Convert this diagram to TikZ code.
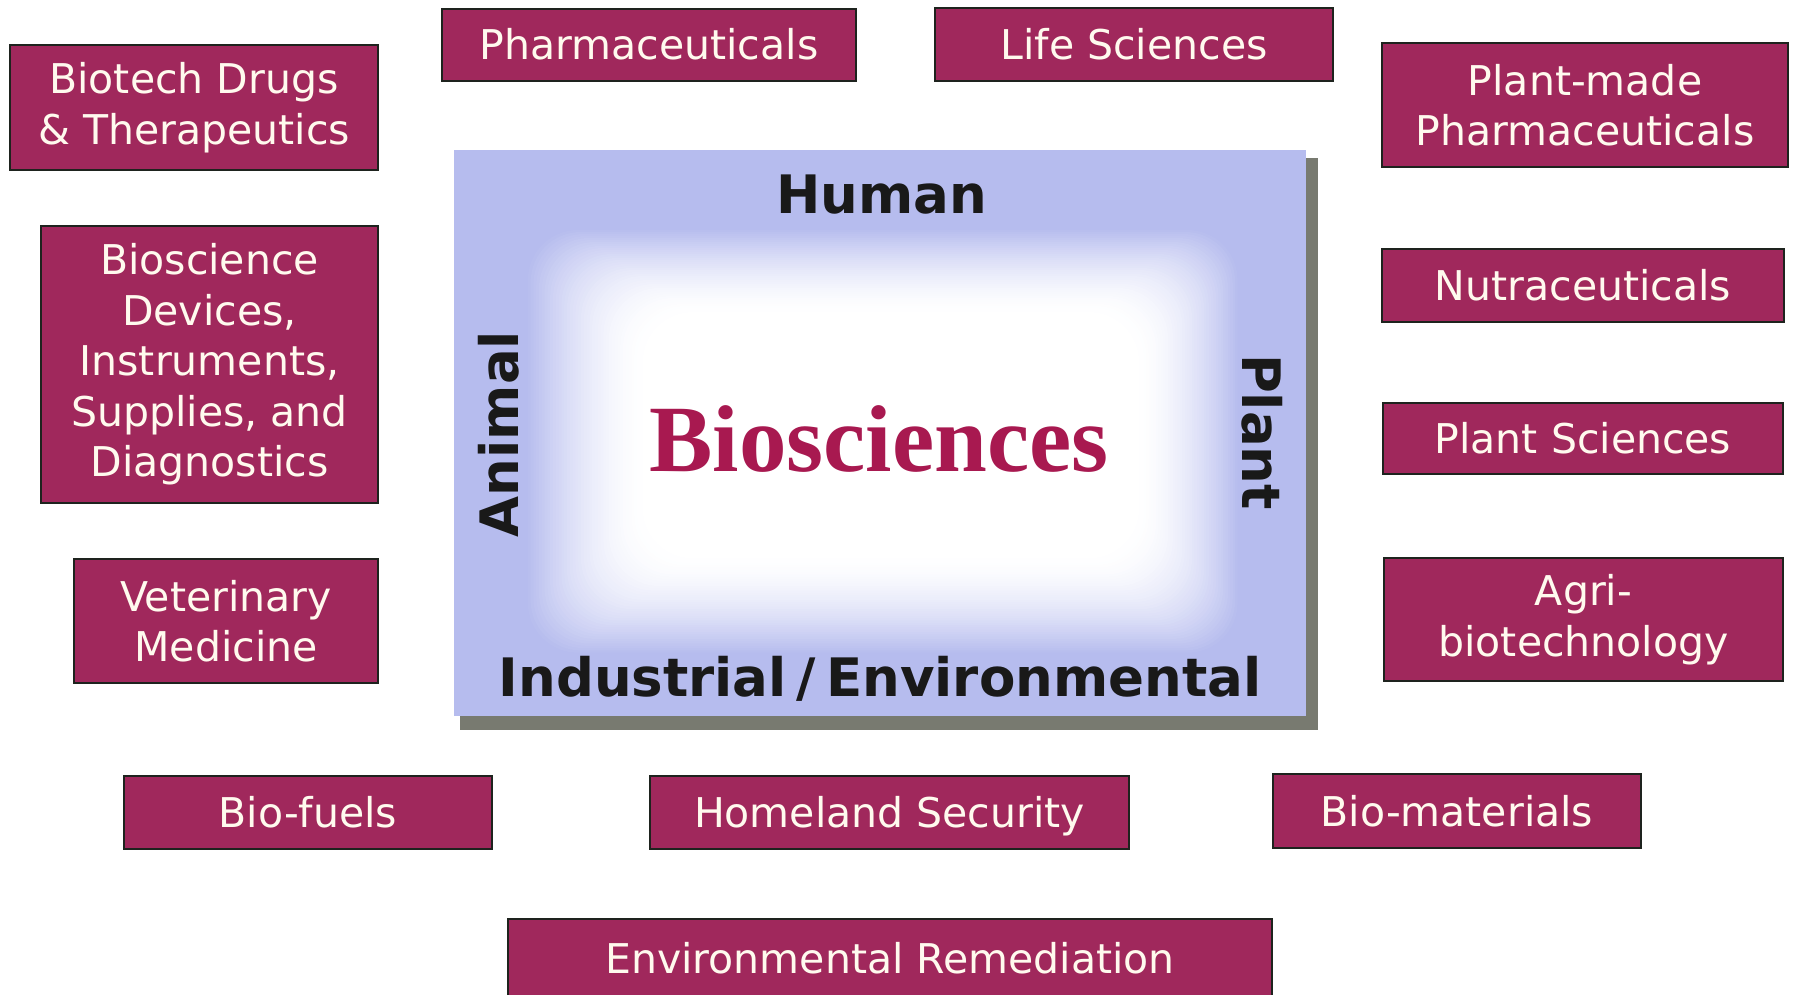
\documentclass[tikz,border=0pt]{standalone}
\usepackage{fontspec}
\newfontfamily\vfont{DejaVu Sans}
\newfontfamily\tfont{Liberation Serif}
\definecolor{maroon}{RGB}{160,40,92}
\definecolor{edge}{RGB}{30,35,30}
\definecolor{cream}{RGB}{255,250,238}
\definecolor{lav}{RGB}{182,188,238}
\definecolor{shadowgray}{RGB}{120,122,112}
\definecolor{crimson}{RGB}{168,25,80}
\definecolor{ink}{RGB}{25,25,25}
\begin{document}
\begin{tikzpicture}[x=1pt,y=-1pt,
  tag/.style={draw=edge, line width=1.6pt, fill=maroon, text=cream, align=center, inner sep=0pt,
    font=\vfont\fontsize{41}{50.5}\selectfont},
  oneline/.style={text height=30pt, text depth=0pt},
  axislabel/.style={text=ink, inner sep=0pt, font=\vfont\bfseries\fontsize{53}{60}\selectfont},
  glowstep/.style={rounded corners=50pt}]
\useasboundingbox (0,0) rectangle (1797,995);
\fill[white] (0,0) rectangle (1797,995);
% central panel
\fill[shadowgray] (460,158) rectangle (1318,730);
\fill[lav] (454,150) rectangle (1306,716);
\foreach \t in {1,...,42}{
  \pgfmathsetmacro{\xa}{525+\t*2.8}
  \pgfmathsetmacro{\xb}{1240-\t*2.4}
  \pgfmathsetmacro{\ya}{228+\t*2.0}
  \pgfmathsetmacro{\yb}{655-\t*2.3}
  \pgfmathtruncatemacro{\p}{100*(1-(1-\t/42)^1.6)}
  \fill[glowstep, white!\p!lav] (\xa,\ya) rectangle (\xb,\yb);
}
\node[axislabel] (human) at (882,195) {Human};
\node[axislabel, anchor=base] (indus) at (880,696) {Industrial\kern10pt/\kern10pt Environmental};
\node[axislabel, rotate=90] (animal) at (499,434) {Animal};
\node[axislabel, rotate=-90] (plant) at (1262,432) {Plant};
\node[text=crimson, inner sep=0pt, font=\tfont\bfseries\fontsize{95}{100}\selectfont] (bio) at (879,439) {Biosciences};
% surrounding boxes
\node[tag, minimum width=368, minimum height=125] (biotech) at (194,107.5) {Biotech Drugs\\\& Therapeutics};
\node[tag, oneline, minimum width=414, minimum height=72] (pharma) at (649,45) {Pharmaceuticals};
\node[tag, oneline, minimum width=398, minimum height=73] (life) at (1134,44.5) {Life Sciences};
\node[tag, minimum width=406, minimum height=124] (pmp) at (1585,105) {Plant-made\\Pharmaceuticals};
\node[tag, minimum width=337, minimum height=277] (devices) at (209.5,364.5) {Bioscience\\Devices,\\Instruments,\\Supplies, and\\Diagnostics};
\node[tag, oneline, minimum width=402, minimum height=73] (nutra) at (1583,285.5) {Nutraceuticals};
\node[tag, oneline, minimum width=400, minimum height=71] (plantsci) at (1583,438.5) {Plant Sciences};
\node[tag, minimum width=304, minimum height=124] (vet) at (226,621) {Veterinary\\Medicine};
\node[tag, minimum width=399, minimum height=123] (agri) at (1583.5,619.5) {Agri-\\biotechnology};
\node[tag, oneline, minimum width=368, minimum height=73] (fuels) at (308,812.5) {Bio-fuels};
\node[tag, oneline, minimum width=479, minimum height=73] (homeland) at (889.5,812.5) {Homeland Security};
\node[tag, oneline, minimum width=368, minimum height=74] (materials) at (1457,811) {Bio-materials};
\node[tag, oneline, minimum width=764, minimum height=78] (env) at (890,958) {Environmental Remediation};
\end{tikzpicture}
\end{document}
